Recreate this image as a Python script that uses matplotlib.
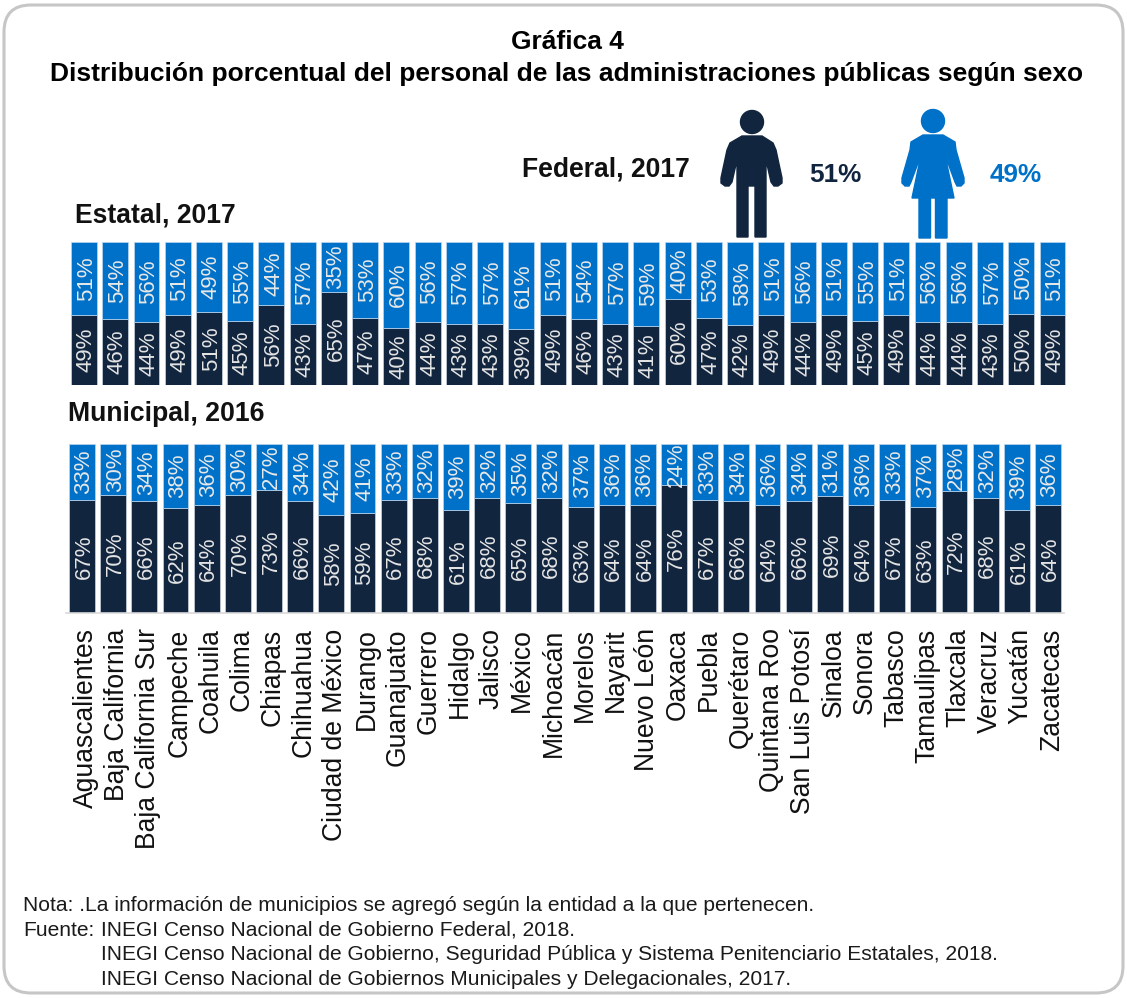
import matplotlib
matplotlib.use("Agg")
import matplotlib.pyplot as plt
from matplotlib.patches import Circle, FancyBboxPatch, Polygon
from matplotlib.transforms import ScaledTranslation

plt.rcParams['font.family'] = ['Liberation Sans', 'DejaVu Sans']

# ============================================================
# DATA
# ============================================================

entidades = [
    "Aguascalientes", "Baja California", "Baja California Sur", "Campeche",
    "Coahuila", "Colima", "Chiapas", "Chihuahua", "Ciudad de México",
    "Durango", "Guanajuato", "Guerrero", "Hidalgo", "Jalisco", "México",
    "Michoacán", "Morelos", "Nayarit", "Nuevo León", "Oaxaca", "Puebla",
    "Querétaro", "Quintana Roo", "San Luis Potosí", "Sinaloa", "Sonora",
    "Tabasco", "Tamaulipas", "Tlaxcala", "Veracruz", "Yucatán", "Zacatecas",
]

estatal_hombres = [49, 46, 44, 49, 51, 45, 56, 43, 65, 47, 40, 44, 43, 43, 39, 49,
                   46, 43, 41, 60, 47, 42, 49, 44, 49, 45, 49, 44, 44, 43, 50, 49]
estatal_mujeres = [51, 54, 56, 51, 49, 55, 44, 57, 35, 53, 60, 56, 57, 57, 61, 51,
                   54, 57, 59, 40, 53, 58, 51, 56, 51, 55, 51, 56, 56, 57, 50, 51]

municipal_hombres = [67, 70, 66, 62, 64, 70, 73, 66, 58, 59, 67, 68, 61, 68, 65, 68,
                     63, 64, 64, 76, 67, 66, 64, 66, 69, 64, 67, 63, 72, 68, 61, 64]
municipal_mujeres = [33, 30, 34, 38, 36, 30, 27, 34, 42, 41, 33, 32, 39, 32, 35, 32,
                     37, 36, 36, 24, 33, 34, 36, 34, 31, 36, 33, 37, 28, 32, 39, 36]

federal_hombres = 51
federal_mujeres = 49

titulo = "Gráfica 4"
subtitulo = "Distribución porcentual del personal de las administraciones públicas según sexo"

notas = [
    (23, 911, "Nota: .La información de municipios se agregó según la entidad a la que pertenecen."),
    (23, 936, "Fuente:"),
    (101, 936, "INEGI Censo Nacional de Gobierno Federal, 2018."),
    (101, 960, "INEGI Censo Nacional de Gobierno, Seguridad Pública y Sistema Penitenciario Estatales, 2018."),
    (101, 985, "INEGI Censo Nacional de Gobiernos Municipales y Delegacionales, 2017."),
]

NAVY = "#12253F"
BLUE = "#0071C9"
W, H = 1127, 998

# ============================================================
# FIGURE
# ============================================================

fig = plt.figure(figsize=(W / 100, H / 100), dpi=100)


def px_axes(left, top, right, bottom):
    return fig.add_axes([left / W, 1 - bottom / H, (right - left) / W, (bottom - top) / H])


# overlay in pixel coordinates for frame, texts and icons
bg = fig.add_axes([0, 0, 1, 1], zorder=0)
bg.set_xlim(0, W)
bg.set_ylim(H, 0)
bg.axis('off')

bg.add_patch(FancyBboxPatch((30, 31), W - 60, H - 62, boxstyle="round,pad=26,rounding_size=27",
                            fc="white", ec="#C6C6C6", lw=2.2))

# ============================================================
# BARS
# ============================================================


def stacked(ax, hombres, mujeres):
    x = range(len(hombres))
    b1 = ax.bar(x, hombres, width=0.83, color=NAVY, edgecolor="#C9D3DF", linewidth=0.5)
    b2 = ax.bar(x, mujeres, width=0.83, bottom=hombres, color=BLUE, edgecolor="#BBD6EE", linewidth=0.5)
    t1 = ax.bar_label(b1, labels=[f"{v}%" for v in hombres], label_type='center',
                      rotation=90, color="#E4E4E4", fontsize=16)
    t2 = ax.bar_label(b2, labels=[f"{v}%" for v in mujeres], label_type='center',
                      rotation=90, color="#E8E8E8", fontsize=16)
    # nudge a little to the right, the text sits off centre when rotated
    for t in list(t1) + list(t2):
        t.xyann = (1.5, 0)
    ax.set_xlim(-0.5, len(hombres) - 0.5)
    ax.set_ylim(0, 100)
    ax.set_yticks([])
    for s in ['top', 'left', 'right']:
        ax.spines[s].set_visible(False)


ax1 = px_axes(68.4, 242, 1068.1, 385)
ax1.patch.set_alpha(0)
stacked(ax1, estatal_hombres, estatal_mujeres)
ax1.spines['bottom'].set_visible(False)
ax1.set_xticks([])

ax2 = px_axes(66.4, 444, 1063.6, 613)
ax2.patch.set_alpha(0)
stacked(ax2, municipal_hombres, municipal_mujeres)
ax2.spines['bottom'].set_color("#D9D9D9")
ax2.spines['bottom'].set_linewidth(1.2)
ax2.set_xticks(range(len(entidades)))
ax2.set_xticklabels(entidades, rotation=90, fontsize=19.1, color="#111111")
ax2.tick_params(axis='x', length=0, pad=11)

offset = ScaledTranslation(4 / 100, 0, fig.dpi_scale_trans)
for lab in ax2.get_xticklabels():
    lab.set_transform(lab.get_transform() + offset)

# ============================================================
# TEXTS
# ============================================================

bg.text(567, 42, titulo, ha='center', va='center', fontsize=19, fontweight='bold', color="black")
bg.text(567, 74, subtitulo, ha='center', va='center', fontsize=19, fontweight='bold', color="black")
bg.text(522, 169, "Federal, 2017", ha='left', va='center', fontsize=19.1, fontweight='bold', color="#111111")
bg.text(75, 215, "Estatal, 2017", ha='left', va='center', fontsize=19.1, fontweight='bold', color="#111111")
bg.text(68, 414, "Municipal, 2016", ha='left', va='center', fontsize=19.2, fontweight='bold', color="#111111")
bg.text(809, 175, f"{federal_hombres}%", ha='left', va='center', fontsize=18.8, fontweight='bold', color=NAVY)
bg.text(990, 175, f"{federal_mujeres}%", ha='left', va='center', fontsize=18.8, fontweight='bold', color=BLUE)

for x, y, t in notas:
    bg.text(x, y, t, ha='left', va='baseline', fontsize=15.1, color="#1A1A1A")

# ============================================================
# ICONS
# ============================================================

bg.add_patch(Circle((752, 122), 11.5, color=NAVY))
bg.add_patch(Polygon([
    (742, 136), (762, 136), (773, 143), (776, 150), (782, 178), (782, 183), (778, 186),
    (774, 186), (771, 182), (766, 160), (766, 237), (755, 237), (755, 186), (748, 186),
    (748, 237), (737, 237), (737, 160), (732, 182), (729, 186), (725, 186), (721, 183),
    (721, 178), (727, 150), (730, 143)], closed=True, color=NAVY))

bg.add_patch(Circle((933, 121), 11.5, color=BLUE))
bg.add_patch(Polygon([
    (923, 135), (943, 135), (955, 142), (956, 150), (964, 178), (964, 183), (961, 186),
    (957, 186), (955, 182), (945, 155), (954, 198), (947, 198), (947, 238), (935.5, 238),
    (935.5, 198), (930.5, 198), (930.5, 238), (919, 238), (919, 198), (912, 198), (921, 155),
    (911, 182), (909, 186), (905, 186), (902, 183), (902, 178), (910, 150), (911, 142)],
    closed=True, color=BLUE))

# ============================================================
# SAVE
# ============================================================

plt.savefig("out.png", dpi=100)
